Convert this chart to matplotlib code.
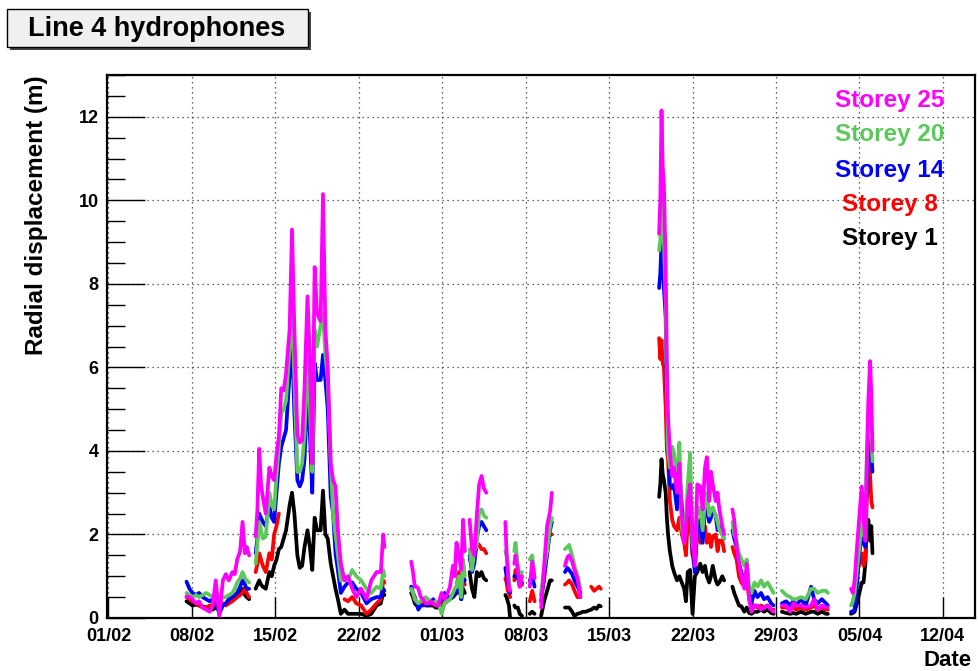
import numpy as np
import matplotlib
matplotlib.use("Agg")
import matplotlib.pyplot as plt
from matplotlib.patches import Rectangle

nan = float("nan")

# ---- data (days since 01/02) ----
days = [
    6.55, 6.8, 7.05, 7.35, 7.6, 7.9, 8.2, 8.5, 8.75, 9.0, 9.3, 9.6, 9.85, 10.1, 10.4, 10.6, 10.8, 11.05,
    11.25, 11.45, 11.6, 11.8, 12.05,
    12.35, 12.5, 12.65, 12.8, 12.95, 13.2, 13.5, 13.7, 13.9, 14.1, 14.3, 14.5, 14.7, 14.9, 15.2, 15.4,
    15.6, 15.85, 16.05, 16.25, 16.45, 16.7, 16.9, 17.1, 17.3, 17.5, 17.8, 18.0, 18.2, 18.4, 18.65,
    18.85, 19.05, 19.25, 19.5, 19.8, 20.1, 20.45, 20.8, 21.2, 21.65, 22.05, 22.5, 22.85, 23.05, 23.15, 24.3,
    25.4, 25.55, 25.7, 25.85, 26.0, 26.2, 26.4, 26.6, 26.8, 27.05, 27.25, 27.45, 27.65, 27.85, 27.95,
    28.2, 28.4, 28.65, 28.9, 29.05, 29.2, 29.4, 29.6, 29.75, 29.9, 30.1,
    30.3, 30.5, 30.7, 30.9, 31.1, 31.3, 31.5, 31.7, 32.5,
    33.3, 33.4, 33.5, 33.6, 33.7, 33.85,
    34.05, 34.15, 34.35, 34.5, 34.7, 35.0,
    35.35, 35.55, 35.75, 36.0,
    36.3, 36.55, 36.8, 37.05, 37.2, 37.7,
    38.3, 38.5, 38.65, 38.9, 39.1, 39.35, 39.6, 39.8, 40.05, 40.3, 40.5, 40.75, 40.95, 41.15, 41.3, 43.0,
    46.2, 46.3, 46.4, 46.5, 46.6, 46.75, 46.85, 46.95, 47.1, 47.3, 47.45, 47.7, 47.9, 48.1, 48.3,
    48.45, 48.6, 48.8, 49.0, 49.2, 49.4, 49.65, 49.85, 50.05, 50.2, 50.4, 50.55, 50.7, 50.95, 51.1,
    51.25, 51.5, 51.65, 52.0,
    52.35, 52.5, 52.7, 52.9, 53.1, 53.35, 53.55, 53.75, 53.95, 54.2, 54.45, 54.75, 55.0, 55.3, 55.6,
    55.8, 56.1,
    56.5, 56.85, 57.2, 57.45, 57.7, 58.1, 58.5, 58.95, 59.2, 59.5, 59.85, 60.2, 60.35, 61.5,
    62.3, 62.45, 62.6, 62.8, 63.0, 63.2, 63.35, 63.5, 63.6, 63.75, 63.9, 64.0, 64.1,
]

storey1 = [
    0.40, 0.35, 0.30, 0.32, 0.30, 0.28, 0.25, 0.22, 0.20, 0.25, 0.20, 0.30, 0.35, 0.40, 0.45, 0.50, 0.55, 0.60,
    0.70, 0.55, 0.50, 0.45, nan,
    0.70, 0.80, 0.90, 0.80, 0.75, 0.70, 1.10, 1.00, 1.25, 1.40, 1.65, 1.70, 1.90, 2.10, 2.70, 3.00,
    2.50, 1.50, 1.20, 1.25, 1.70, 2.10, 1.70, 1.15, 2.40, 2.10, 2.10, 3.05, 2.00, 1.90, 1.30,
    1.00, 0.70, 0.45, 0.10, 0.20, 0.10, 0.10, 0.10, 0.10, 0.05, 0.10, 0.30, 0.35, 0.60, 0.55, nan,
    0.60, 0.50, 0.35, 0.30, 0.30, 0.35, 0.35, 0.30, 0.30, 0.30, 0.30, 0.25, 0.25, 0.30, 0.30,
    0.35, 0.40, 0.45, 0.50, 0.55, 0.60, 0.90, 0.45, 0.70, 0.60, nan,
    1.10, 0.70, 0.50, 1.10, 1.00, 1.10, 0.95, 0.90, nan,
    0.55, 0.50, 0.40, 0.30, 0.00, nan,
    0.30, 0.25, 0.25, 0.10, 0.05, nan,
    0.10, 0.15, 0.10, nan,
    0.05, 0.40, 0.65, 0.90, 0.90, nan,
    0.25, 0.25, 0.25, 0.15, 0.05, 0.10, 0.12, 0.15, 0.15, 0.18, 0.20, 0.25, 0.22, 0.30, 0.28, nan,
    2.90, 3.20, 3.80, 3.45, 3.30, 3.00, 2.40, 2.00, 1.60, 1.25, 1.10, 0.90, 1.00, 0.85, 0.70,
    0.40, 1.10, 1.15, 0.10, 1.00, 1.10, 1.30, 1.10, 1.25, 1.00, 0.85, 1.00, 1.25, 0.90, 0.80,
    0.85, 1.00, 0.90, nan,
    0.75, 0.60, 0.45, 0.30, 0.28, 0.15, 0.25, 0.12, 0.10, 0.15, 0.15, 0.20, 0.15, 0.20, 0.12,
    0.10, nan,
    0.15, 0.12, 0.10, 0.12, 0.10, 0.15, 0.10, 0.15, 0.15, 0.10, 0.15, 0.10, 0.10, nan,
    0.10, 0.12, 0.15, 0.35, 0.60, 0.85, 0.85, 1.30, 2.00, 2.35, 1.85, 2.20, 1.55,
]

storey8 = [
    0.50, 0.45, 0.40, 0.35, 0.30, 0.25, 0.25, 0.30, 0.30, 0.35, 0.30, 0.35, 0.30, 0.35, 0.40, 0.45, 0.50, 0.55,
    0.60, 0.70, 0.60, 0.50, nan,
    1.10, 1.30, 1.55, 1.40, 1.25, 1.10, 1.55, 1.40, 2.00, 2.20, 2.50, nan, nan, nan, nan, nan,
    nan, nan, nan, nan, nan, nan, nan, nan, nan, nan, nan, nan, nan, nan, nan,
    nan, nan, nan, nan, 0.45, 0.40, 0.50, 0.35, 0.30, 0.10, 0.20, 0.35, 0.45, 0.90, 0.85, nan,
    0.70, 0.60, 0.45, 0.35, 0.30, 0.35, 0.40, 0.35, 0.30, 0.35, 0.35, 0.30, 0.30, 0.35, 0.30,
    0.40, 0.45, 0.50, 0.55, 0.65, 0.75, 1.10, 0.60, 0.90, 0.80, nan,
    1.40, 1.35, 1.40, 1.80, 1.75, 1.65, 1.65, 1.55, nan,
    0.95, 0.85, 0.65, 0.60, 0.50, nan,
    0.90, 1.15, 1.00, 0.75, 0.80, nan,
    0.40, 0.65, 0.40, nan,
    0.55, 0.90, 1.75, 2.00, 2.00, nan,
    0.80, 0.85, 0.90, 0.80, 0.65, 0.50, 0.50, nan, nan, nan, 0.75, 0.65, 0.70, 0.75, 0.70, nan,
    6.70, 6.20, 6.65, 6.10, 6.00, 5.05, 4.00, 3.80, 2.80, 2.35, 2.20, 2.10, 2.40, 2.00, 1.80,
    1.50, 2.30, 2.40, 1.50, 1.40, 2.20, 1.80, 2.00, 2.20, 1.80, 2.00, 1.70, 1.95, 2.00, 1.60,
    1.85, 1.85, 1.60, nan,
    1.70, 1.55, 1.40, 1.00, 0.85, 0.75, 1.00, 0.45, 0.30, 0.30, 0.25, 0.30, 0.25, 0.30, 0.20,
    0.20, nan,
    0.25, 0.25, 0.20, 0.25, 0.20, 0.25, 0.20, 0.25, 0.30, 0.20, 0.25, 0.20, 0.20, nan,
    nan, 0.40, 0.50, 1.10, 1.30, 1.55, 1.25, 1.40, 2.65, 4.00, 3.40, 2.80, 2.65,
]

storey14 = [
    0.87, 0.70, 0.60, 0.55, 0.60, 0.50, 0.45, 0.40, 0.45, 0.40, 0.10, 0.30, 0.35, 0.45, 0.50, 0.55, 0.60, 0.75,
    0.90, 0.80, 0.70, 0.70, nan,
    1.55, 1.90, 2.50, 2.40, 2.30, 2.20, 2.70, 2.40, 2.30, 3.00, 3.70, 4.10, 4.30, 4.50, 5.85, 6.70,
    4.90, 3.30, 3.15, 3.30, 3.80, 5.50, 4.40, 3.00, 6.10, 5.70, 5.70, 6.30, 5.70, 5.00, 2.90,
    2.50, 1.55, 1.15, 0.60, 0.75, 0.85, 0.85, 0.70, 0.60, 0.35, 0.45, 0.50, 0.50, 0.70, 0.65, nan,
    0.75, 0.60, 0.50, 0.35, 0.20, 0.30, 0.30, 0.35, 0.30, 0.40, 0.45, 0.35, 0.35, 0.40, 0.45,
    0.60, 0.50, 0.50, 0.50, 0.60, 0.70, 0.80, 0.45, 1.00, 0.90, nan,
    1.50, 1.10, 1.30, 1.90, 2.20, 2.30, 2.20, 2.10, nan,
    1.20, 1.00, 0.90, 0.75, 0.60, nan,
    1.00, 1.00, 0.95, 0.85, 0.85, nan,
    0.90, 1.00, 0.75, nan,
    0.40, 1.00, 1.50, 2.10, 2.30, nan,
    1.10, 1.20, 1.15, 1.05, 0.90, 0.75, 0.60, nan, nan, nan, nan, nan, nan, nan, nan, nan,
    7.90, 8.25, 9.00, 8.80, 7.90, 7.20, 5.20, 4.20, 3.20, 3.10, 3.20, 2.60, 3.50, 2.70, 2.00,
    2.20, 2.80, 3.10, 1.60, 1.10, 2.20, 2.35, 1.80, 2.60, 2.65, 2.30, 2.40, 2.60, 2.45, 2.10,
    2.20, 2.00, 1.90, nan,
    2.10, 1.90, 1.70, 1.30, 1.10, 0.85, 1.10, 0.60, 0.35, 0.65, 0.50, 0.60, 0.45, 0.50, 0.35,
    0.30, nan,
    0.35, 0.40, 0.30, 0.40, 0.30, 0.45, 0.30, 0.75, 0.45, 0.35, 0.45, 0.35, 0.30, nan,
    0.15, 0.15, 0.20, 0.80, 1.55, 2.00, 1.80, 1.70, 3.00, 4.55, 4.65, 4.00, 3.50,
]

storey20 = [
    0.60, 0.55, 0.50, 0.55, 0.50, 0.55, 0.60, 0.55, 0.50, 0.45, 0.40, 0.50, 0.50, 0.55, 0.60, 0.70, 0.85, 0.95,
    1.10, 0.95, 0.90, 0.85, nan,
    1.30, 1.80, 2.30, 2.10, 1.90, 1.95, 3.00, 2.70, 2.60, 3.40, 4.10, 4.90, 5.00, 5.20, 6.50, 7.70,
    5.70, 3.50, 3.50, 3.70, 4.40, 6.20, 5.05, 3.50, 6.90, 6.50, 7.00, 7.30, 6.30, 5.70, 3.70,
    2.50, 2.00, 1.50, 0.90, 1.00, 0.90, 1.15, 1.00, 0.90, 0.70, 0.60, 0.75, 0.70, 1.15, 1.00, nan,
    0.70, 0.60, 0.45, 0.40, 0.35, 0.40, 0.45, 0.50, 0.45, 0.40, 0.35, 0.40, 0.35, 0.20, 0.10,
    0.35, 0.40, 0.45, 0.60, 0.70, 0.75, 1.00, 0.50, 1.40, 1.00, nan,
    1.65, 1.15, 1.60, 1.75, 2.55, 2.60, 2.45, 2.40, nan,
    1.60, 1.50, 1.25, 0.90, 0.70, nan,
    1.60, 1.80, 1.25, 1.00, 1.10, nan,
    1.40, 1.50, 1.00, nan,
    0.60, 1.20, 1.60, 2.20, 2.40, nan,
    1.65, 1.70, 1.75, 1.50, 1.25, 1.00, 0.70, nan, nan, nan, nan, nan, nan, nan, nan, nan,
    8.80, 9.05, 10.00, 9.80, 9.05, 7.60, 5.60, 4.00, 3.60, 4.10, 3.95, 3.20, 4.20, 2.20, 1.80,
    2.40, 3.20, 3.95, 1.80, 1.40, 2.60, 2.65, 2.10, 2.80, 3.00, 2.45, 2.60, 2.65, 2.45, 2.30,
    2.10, 2.00, 1.90, nan,
    2.30, 2.00, 1.85, 1.55, 1.40, 1.25, 1.40, 0.75, 0.60, 0.85, 0.75, 0.90, 0.75, 0.85, 0.70,
    0.60, nan,
    0.65, 0.55, 0.50, 0.45, 0.45, 0.50, 0.45, 0.70, 0.70, 0.60, 0.65, 0.65, 0.60, nan,
    0.30, 0.40, 0.60, 1.15, 1.70, 2.35, 2.00, 1.90, 3.60, 4.80, 5.20, 4.40, 3.75,
]

storey25 = [
    0.52, 0.50, 0.45, 0.35, 0.40, 0.25, 0.20, 0.15, 0.30, 0.90, 0.05, 0.90, 1.05, 0.90, 1.10, 1.05, 1.40, 1.60,
    2.30, 1.55, 1.70, 1.50, nan,
    1.95, 2.60, 4.05, 3.20, 2.90, 2.50, 3.60, 3.40, 3.30, 3.90, 4.35, 5.50, 5.45, 5.85, 6.90, 9.30,
    6.90, 4.40, 4.20, 4.25, 5.50, 7.70, 6.20, 3.70, 8.40, 7.30, 7.10, 10.15, 6.90, 6.00, 3.70,
    3.30, 3.15, 2.10, 1.30, 0.90, 1.00, 0.70, 0.50, 0.70, 0.45, 0.90, 1.10, 1.10, 2.00, 1.70, nan,
    1.35, 1.10, 0.75, 0.75, 0.70, 0.50, 0.45, 0.35, 0.35, 0.40, 0.35, 0.30, 0.30, 0.50, 0.60,
    0.45, 0.55, 0.75, 1.25, 1.00, 1.80, 1.50, 1.15, 2.35, 1.60, nan,
    2.35, 1.65, 1.50, 2.45, 3.20, 3.40, 3.10, 3.00, nan,
    2.30, 1.55, 1.15, 0.70, 0.65, nan,
    1.30, 1.50, 1.15, 0.75, 1.00, nan,
    0.75, 1.35, 0.95, nan,
    0.25, 1.25, 2.20, 2.55, 3.00, nan,
    1.25, 1.45, 1.50, 1.35, 1.15, 0.95, 0.50, nan, nan, nan, nan, nan, nan, nan, nan, nan,
    9.20, 10.00, 12.15, 10.80, 10.40, 8.40, 6.00, 4.80, 4.00, 3.40, 3.60, 3.00, 3.70, 2.45, 1.80,
    2.10, 2.80, 3.20, 2.00, 1.25, 3.20, 3.15, 2.60, 3.60, 3.85, 2.80, 3.50, 3.20, 2.80, 3.00,
    2.60, 2.20, 2.00, nan,
    2.60, 2.35, 1.70, 1.30, 1.00, 0.70, 1.30, 0.45, 0.15, 0.30, 0.30, 0.20, 0.25, 0.30, 0.20,
    0.15, nan,
    0.30, 0.30, 0.15, 0.35, 0.30, 0.30, 0.25, 0.30, 0.45, 0.20, 0.30, 0.25, 0.25, nan,
    0.70, 0.60, 0.90, 1.70, 2.45, 3.15, 2.40, 1.85, 3.45, 5.20, 6.15, 5.35, 4.00,
]

series_names = ["Storey 1", "Storey 8", "Storey 14", "Storey 20", "Storey 25"]
series_values = [storey1, storey8, storey14, storey20, storey25]
series_colors = ["#000000", "#FF0000", "#0000FF", "#5CC85C", "#FF00FF"]

tick_days = [0, 7, 14, 21, 28, 35, 42, 49, 56, 63, 70]
tick_labels = ["01/02", "08/02", "15/02", "22/02", "01/03", "08/03", "15/03",
               "22/03", "29/03", "05/04", "12/04"]

# ---- figure ----
plt.rcParams["font.family"] = ["Liberation Sans", "DejaVu Sans"]
plt.rcParams["font.weight"] = "bold"

W, H = 979, 671
fig = plt.figure(figsize=(W / 100, H / 100), dpi=100)
ax = fig.add_axes([107 / W, 1 - 618 / H, 868 / W, 543 / H])

x = np.array(days)
for i, (name, vals, col) in enumerate(zip(series_names, series_values, series_colors)):
    ax.plot(x, np.array(vals, dtype=float), color=col, lw=2.7, zorder=3 + i,
            solid_joinstyle="round", solid_capstyle="round")

ax.set_xlim(-0.12, 72.7)
ax.set_ylim(0, 13)

ax.set_xticks(tick_days)
ax.set_xticklabels(tick_labels, fontsize=13, fontweight="bold")
ax.set_yticks(np.arange(0, 13, 2))
ax.set_yticklabels([str(v) for v in range(0, 13, 2)], fontsize=13, fontweight="bold")
ax.set_yticks(np.arange(0, 13.01, 0.5), minor=True)

ax.tick_params(axis="y", which="major", direction="in", length=27, width=1.0, pad=6)
ax.tick_params(axis="y", which="minor", direction="in", length=13, width=1.0)
ax.tick_params(axis="x", which="major", direction="in", length=15, width=1.0, pad=7)

ax.grid(True, which="major", color="#333333", linestyle=(0, (1, 3)), linewidth=0.9)
for s in ax.spines.values():
    s.set_linewidth(1.6)

# axis titles
fig.text(37 / W, 1 - 75 / H, "Radial displacement (m)", rotation=90, ha="center", va="top",
         fontsize=17.5, fontweight="bold")
fig.text(972 / W, 1 - 661 / H, "Date", ha="right", va="center", fontsize=16, fontweight="bold")

# legend (coloured text)
legend_y = [100, 135, 170, 205, 238]
for (name, col), yy in zip(list(zip(series_names, series_colors))[::-1], legend_y):
    fig.text(890 / W, 1 - yy / H, name, color=col, ha="center", va="center",
             fontsize=17.5, fontweight="bold")

# title box with shadow
fig.patches.append(Rectangle((10 / W, 1 - 50 / H), 301 / W, 38 / H, transform=fig.transFigure,
                             facecolor="#444444", edgecolor="none", zorder=1))
fig.patches.append(Rectangle((7 / W, 1 - 47 / H), 301 / W, 38 / H, transform=fig.transFigure,
                             facecolor="#F0F0F0", edgecolor="black", linewidth=1.0, zorder=2))
fig.text(157 / W, 1 - 29 / H, "Line 4 hydrophones", ha="center", va="center",
         fontsize=19.5, fontweight="bold", zorder=3)

fig.savefig("out.png", dpi=100)
